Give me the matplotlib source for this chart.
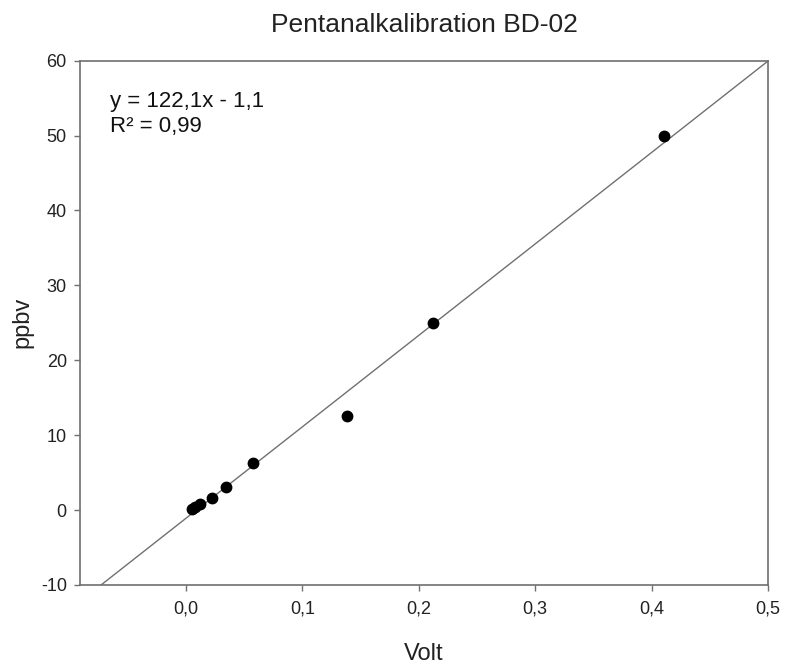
import numpy as np
import matplotlib
matplotlib.use('Agg')
import matplotlib.pyplot as plt
from matplotlib.ticker import FuncFormatter

plt.rcParams['font.family'] = ['Liberation Sans', 'DejaVu Sans']
plt.rcParams['axes.unicode_minus'] = False

# calibration points (dilution series)
volt = [0.411, 0.212, 0.138, 0.058, 0.034, 0.022, 0.012, 0.008, 0.005]
ppbv = [50.0, 25.0, 12.5, 6.25, 3.125, 1.5625, 0.78, 0.39, 0.195]

# linear fit as given in the chart
slope = 122.1
intercept = -1.1

fig = plt.figure(figsize=(7.85, 6.69), dpi=100)
ax = fig.add_axes([0.1019, 0.1256, 0.8764, 0.7837])

xlim = (-0.091, 0.5)
ylim = (-10, 60)

xfit = np.array([(ylim[0] - intercept) / slope, (ylim[1] - intercept) / slope])
ax.plot(xfit, slope * xfit + intercept, color='#707070', lw=1.0, zorder=2)
ax.plot(volt, ppbv, 'o', color='black', ms=7.5, zorder=3)

ax.set_xlim(*xlim)
ax.set_ylim(*ylim)
ax.set_xticks([0.0, 0.1, 0.2, 0.3, 0.4, 0.5])
ax.set_yticks(range(-10, 61, 10))
ax.xaxis.set_major_formatter(FuncFormatter(lambda v, p: '{:.1f}'.format(v).replace('.', ',')))

for s in ax.spines.values():
    s.set_color('#707070')
    s.set_linewidth(1.2)
ax.tick_params(direction='out', length=4.5, width=1.0, color='#707070',
               labelsize=13, labelcolor='#222222')
ax.tick_params(axis='x', pad=7)
ax.tick_params(axis='y', pad=5)

ax.set_xlabel('Volt', fontsize=17, color='#222222', labelpad=18)
ax.set_ylabel('ppbv', fontsize=17, color='#222222', labelpad=5)
ax.set_title('Pentanalkalibration BD-02', fontsize=19, color='#222222', pad=21)

ax.text(0.0436, 0.912, 'y = 122,1x - 1,1', transform=ax.transAxes,
        fontsize=16, color='#111111', va='baseline', ha='left')
ax.text(0.0436, 0.864, 'R² = 0,99', transform=ax.transAxes,
        fontsize=16, color='#111111', va='baseline', ha='left')

fig.savefig('out.png', dpi=100)
plt.close('all')
